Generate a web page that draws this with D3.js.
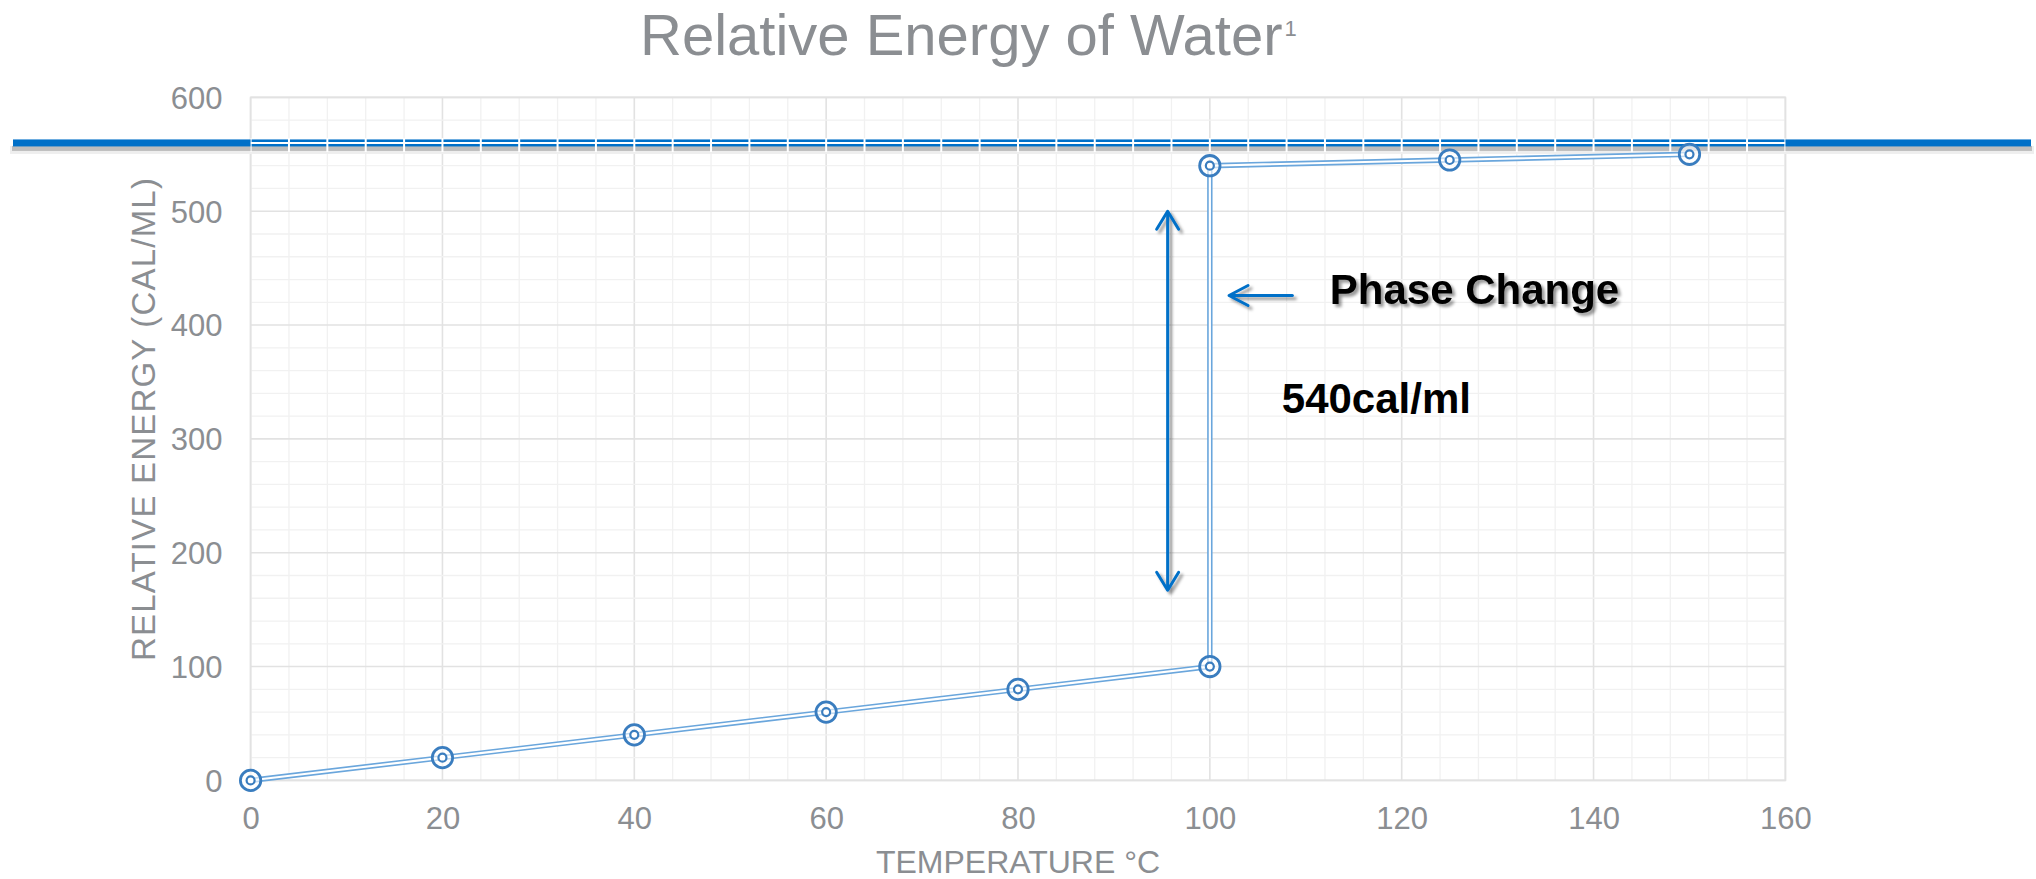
<!DOCTYPE html>
<html>
<head>
<meta charset="utf-8">
<script src="https://cdn.jsdelivr.net/npm/d3@7"></script>
<style>
  html, body { margin: 0; padding: 0; background: #fff; }
  svg { display: block; }
</style>
</head>
<body>
<svg id="chart" width="2036" height="879"></svg>
<script>
// ---- data ----
const temperatures = [0, 20, 40, 60, 80, 100, 100, 125, 150];
const energies     = [0, 20, 40, 60, 80, 100, 540, 545, 550];
const xTicks = [0, 20, 40, 60, 80, 100, 120, 140, 160];
const yTicks = [0, 100, 200, 300, 400, 500, 600];
const referenceEnergy = 560;
const phaseArrowX = 95.6, phaseArrowTop = 500, phaseArrowBottom = 167;
const pointerArrowY = 426, pointerArrowFrom = 108.6, pointerArrowTo = 102;
const titleText = "Relative Energy of Water";
const titleSup = "1";
const xTitle = "TEMPERATURE °C";
const yTitle = "RELATIVE ENERGY (CAL/ML)";
const noteTitle = "Phase Change";
const noteValue = "540cal/ml";

// ---- layout ----
const W = 2036, H = 879;
const L = 250.6, R = 1785.4, T = 97.4, B = 780.4;
const svg = d3.select("#chart");
const x = d3.scaleLinear().domain([0, 160]).range([L, R]);
const y = d3.scaleLinear().domain([0, 600]).range([B, T]);
const grey = "#8b8e92";
const font = "'Liberation Sans', Arial, sans-serif";

const defs = svg.append("defs");
const sh = defs.append("filter").attr("id", "sh").attr("x", "-20%").attr("y", "-20%").attr("width", "140%").attr("height", "160%");
sh.append("feDropShadow").attr("dx", 3).attr("dy", 3).attr("stdDeviation", 1.8).attr("flood-color", "#000").attr("flood-opacity", 0.4);
const tsh = defs.append("filter").attr("id", "tsh").attr("x", "-10%").attr("y", "-20%").attr("width", "120%").attr("height", "150%");
tsh.append("feDropShadow").attr("dx", 3).attr("dy", 3).attr("stdDeviation", 1.8).attr("flood-color", "#000").attr("flood-opacity", 0.4);
defs.append("clipPath").attr("id", "band").append("rect")
  .attr("x", L).attr("y", y(referenceEnergy) - 5).attr("width", R - L).attr("height", 14);

// ---- grid ----
const minorX = d3.range(0, 161, 4), minorY = d3.range(0, 601, 20);
const grid = svg.append("g");
function drawGrid(g, colMinor, colMajor) {
  g.selectAll(".mx").data(minorX).join("line")
    .attr("x1", d => x(d)).attr("x2", d => x(d)).attr("y1", T).attr("y2", B)
    .attr("stroke", d => d % 20 === 0 ? colMajor : colMinor).attr("stroke-width", d => d % 20 === 0 ? 1.6 : 1.3);
  g.selectAll(".my").data(minorY).join("line")
    .attr("y1", d => y(d)).attr("y2", d => y(d)).attr("x1", L).attr("x2", R)
    .attr("stroke", d => d % 100 === 0 ? colMajor : colMinor).attr("stroke-width", d => d % 100 === 0 ? 1.6 : 1.3);
}
drawGrid(grid, "#f1f1f1", "#e2e2e2");
svg.append("rect").attr("x", L).attr("y", T).attr("width", R - L).attr("height", B - T)
  .attr("fill", "none").attr("stroke", "#e2e2e2").attr("stroke-width", 1.6);

// ---- reference thick blue line ----
const ry = y(referenceEnergy);
svg.append("rect").attr("x", 10).attr("y", ry + 3).attr("width", 2024).attr("height", 8).attr("fill", "#eeeeee");
svg.append("rect").attr("x", 12).attr("y", ry + 3).attr("width", 2020).attr("height", 5).attr("fill", "#bdbdbd");
svg.append("rect").attr("x", 13).attr("y", ry - 3.5).attr("width", 2018).attr("height", 7).attr("fill", "#0070c8");
// gridlines show through the band in white
const wg = svg.append("g").attr("clip-path", "url(#band)");
drawGrid(wg, "#ffffff", "#ffffff");
wg.selectAll("line").attr("stroke-width", 2);

// ---- axes ----
const xAxis = svg.append("g").attr("transform", `translate(0,${B})`)
  .call(d3.axisBottom(x).tickValues(xTicks).tickSize(0).tickPadding(27).tickFormat(d3.format("d")));
const yAxis = svg.append("g").attr("transform", `translate(${L},0)`)
  .call(d3.axisLeft(y).tickValues(yTicks).tickSize(0).tickPadding(28).tickFormat(d3.format("d")));
[xAxis, yAxis].forEach(a => {
  a.select(".domain").remove();
  a.selectAll("text").attr("fill", grey).attr("font-family", font).attr("font-size", 31);
});
yAxis.selectAll("text").attr("dy", "0.35em");
xAxis.selectAll("text").attr("dy", "0.71em");

// ---- titles ----
const title = svg.append("text").attr("x", 640).attr("y", 55).attr("fill", grey)
  .attr("font-family", font).attr("font-size", 58);
title.append("tspan").text(titleText);
title.append("tspan").text(titleSup).attr("font-size", 22).attr("dy", -19).attr("dx", 2);

svg.append("text").attr("x", (L + R) / 2).attr("y", 873).attr("text-anchor", "middle")
  .attr("fill", grey).attr("font-family", font).attr("font-size", 32).text(xTitle);
svg.append("text").attr("transform", `translate(155,419) rotate(-90)`).attr("text-anchor", "middle")
  .attr("fill", grey).attr("font-family", font).attr("font-size", 33).attr("letter-spacing", 1.2).text(yTitle);

// ---- data line ----
const pts = temperatures.map((t, i) => [t, energies[i]]);
const lineGen = d3.line().x(d => x(d[0])).y(d => y(d[1]));
svg.append("path").attr("d", lineGen(pts)).attr("fill", "none").attr("stroke", "#6aa6dc").attr("stroke-width", 5.4);
svg.append("path").attr("d", lineGen(pts)).attr("fill", "none").attr("stroke", "#ffffff").attr("stroke-width", 2.2);

const markers = svg.append("g").selectAll("g").data(pts).join("g")
  .attr("transform", d => `translate(${x(d[0])},${y(d[1])})`);
markers.append("circle").attr("r", 10.2).attr("fill", "#fff").attr("fill-opacity", 0.6).attr("stroke", "#3a7dbf").attr("stroke-width", 2.8);
markers.append("circle").attr("r", 4).attr("fill", "#fff").attr("stroke", "#3a7dbf").attr("stroke-width", 2.2);

// ---- annotations ----
const ann = svg.append("g").attr("filter", "url(#sh)").attr("stroke", "#0070c8").attr("fill", "none")
  .attr("stroke-width", 3).attr("stroke-linecap", "round").attr("stroke-linejoin", "round");
const ax = x(phaseArrowX), at = y(phaseArrowTop), ab = y(phaseArrowBottom);
ann.append("line").attr("x1", ax).attr("x2", ax).attr("y1", at + 1).attr("y2", ab - 1);
ann.append("path").attr("d", `M${ax - 11},${at + 18}L${ax},${at}L${ax + 11},${at + 18}`);
ann.append("path").attr("d", `M${ax - 11},${ab - 18}L${ax},${ab}L${ax + 11},${ab - 18}`);
const py = y(pointerArrowY), pf = x(pointerArrowFrom), pt = x(pointerArrowTo);
ann.append("line").attr("x1", pf).attr("x2", pt + 1).attr("y1", py).attr("y2", py);
ann.append("path").attr("d", `M${pt + 19},${py - 10}L${pt},${py}L${pt + 19},${py + 10}`);

svg.append("text").attr("x", x(112.5)).attr("y", y(418.6)).attr("font-family", font)
  .attr("font-weight", "bold").attr("font-size", 42).attr("fill", "#000").attr("filter", "url(#tsh)").text(noteTitle);
svg.append("text").attr("x", x(107.5)).attr("y", y(323)).attr("font-family", font)
  .attr("font-weight", "bold").attr("font-size", 42).attr("fill", "#000").text(noteValue);
</script>
</body>
</html>
